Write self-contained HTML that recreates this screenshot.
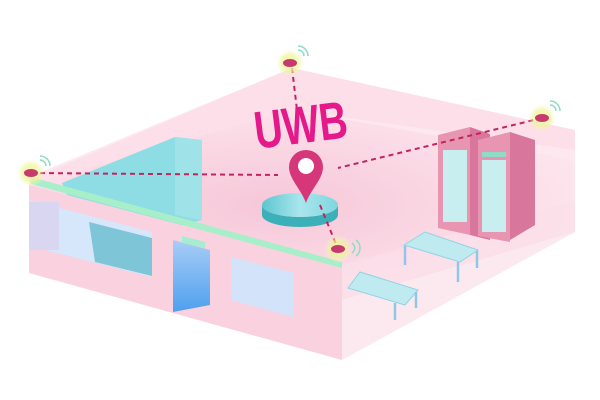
<!DOCTYPE html>
<html><head><meta charset="utf-8"><style>
html,body{margin:0;padding:0;background:#fff;}
svg{display:block}
</style></head><body>
<svg width="600" height="400" viewBox="0 0 600 400" xmlns="http://www.w3.org/2000/svg">
<defs>
<radialGradient id="glow"><stop offset="0" stop-color="#f3f7a0"/><stop offset="0.6" stop-color="#eef59a" stop-opacity="0.7"/><stop offset="1" stop-color="#f6f9c0" stop-opacity="0"/></radialGradient>
<radialGradient id="floorg" cx="0.45" cy="0.5" r="0.6"><stop offset="0" stop-color="#f6c7d8"/><stop offset="1" stop-color="#fde6ee"/></radialGradient>
<linearGradient id="disc" x1="0" x2="1"><stop offset="0" stop-color="#5cc6cf"/><stop offset="0.5" stop-color="#a9e6ec"/><stop offset="1" stop-color="#7fd6dd"/></linearGradient>
<linearGradient id="door" x1="0" y1="0" x2="0" y2="1"><stop offset="0" stop-color="#a8cdf6"/><stop offset="1" stop-color="#4fa0ee"/></linearGradient>
</defs>
<polygon points="292,68 575,130 575,232 342,267 29,180" fill="#fde8ef"/>
<polygon points="292,68 29,177 29,185 292,110 575,150 575,130" fill="#fbd9e5" opacity="0.6"/>
<polygon points="292,110 575,160 575,232 342,300 29,220 29,185" fill="url(#floorg)"/>
<polygon points="342,265 575,200 575,232 342,360" fill="#fbe0ea" opacity="0.7"/>
<polygon points="62,183 175,137 202,140 202,220 90,250" fill="#8fdde4"/>
<polygon points="175,137 202,140 202,220 175,215" fill="#9fe3e8"/>
<polygon points="438,135 470,127 470,235 438,228" fill="#e895b2"/>
<polygon points="470,127 490,134 490,240 470,235" fill="#d9769c"/>
<rect x="443" y="150" width="24" height="72" fill="#c9eef0"/>
<polygon points="478,140 510,132 510,242 478,236" fill="#e895b2"/>
<polygon points="510,132 535,140 535,225 510,240" fill="#d9769c"/>
<rect x="482" y="160" width="24" height="72" fill="#c9eef0"/>
<rect x="482" y="152" width="24" height="5" fill="#8fdbc8"/>
<polygon points="404,245 425,232 478,250 460,262" fill="#bfeaf0" stroke="#8fd3e6"/>
<g stroke="#8fc8e6" stroke-width="2.5"><line x1="405" y1="246" x2="405" y2="265"/><line x1="458" y1="262" x2="458" y2="282"/><line x1="477" y1="251" x2="477" y2="268"/></g>
<polygon points="348,288 360,272 418,290 405,305" fill="#bfeaf0" stroke="#8fd3e6"/>
<g stroke="#8fc8e6" stroke-width="2.5"><line x1="395" y1="303" x2="395" y2="320"/><line x1="416" y1="292" x2="416" y2="308"/></g>
<path d="M262,205 a38,12 0 0 0 76,0 v10 a38,12 0 0 1 -76,0 z" fill="#3bb0b8"/>
<ellipse cx="300" cy="205" rx="38" ry="12" fill="url(#disc)"/>
<polygon points="29,185 342,267 342,360 29,273" fill="#f9d1df"/>
<polygon points="29,200 152,232 152,277 29,246" fill="#d6e6fb"/>
<rect x="29" y="202" width="30" height="48" fill="#d9d6f2"/>
<polygon points="89,222 152,238 152,276 95,262" fill="#7fc5d8"/>
<polygon points="231,257 294,273 294,317 231,300" fill="#d3e3fa"/>
<polygon points="173,240 210,250 210,305 173,312" fill="url(#door)"/>
<polygon points="182,236 205,242 205,248 182,243" fill="#a6ecd0"/>
<polygon points="31,177 342,262 342,268 31,184" fill="#a6efc8"/>
<g stroke="#c2245f" stroke-width="2" stroke-dasharray="5,4" fill="none">
<line x1="31" y1="173" x2="278" y2="175"/>
<line x1="292" y1="68" x2="297" y2="110"/>
<line x1="542" y1="118" x2="338" y2="168"/>
<line x1="320" y1="205" x2="338" y2="249"/>
</g>
<g transform="translate(303,143) rotate(-7) scale(0.85,1.15)">
<text x="0" y="0" text-anchor="middle" font-family="Liberation Sans, sans-serif" font-weight="bold" font-size="46" fill="#e5198a">UWB</text>
</g>
<path d="M306,150 a17,17 0 0 1 17,17 c0,12 -12,22 -17,36 c-5,-14 -17,-24 -17,-36 a17,17 0 0 1 17,-17z" fill="#d6377a"/>
<circle cx="306" cy="166" r="8" fill="#fff"/>
<g>
<circle cx="290" cy="63" r="14" fill="url(#glow)"/><ellipse cx="290" cy="63" rx="7" ry="4" fill="#c83a6e"/>
<circle cx="31" cy="173" r="14" fill="url(#glow)"/><ellipse cx="31" cy="173" rx="7" ry="4" fill="#c83a6e"/>
<circle cx="542" cy="118" r="14" fill="url(#glow)"/><ellipse cx="542" cy="118" rx="7" ry="4" fill="#c83a6e"/>
<circle cx="338" cy="249" r="14" fill="url(#glow)"/><ellipse cx="338" cy="249" rx="7" ry="4" fill="#c83a6e"/>
</g>
<g stroke="#8fdcc0" stroke-width="1.5" fill="none">
<path d="M298,50 a6,6 0 0 1 6,6"/><path d="M298,46 a10,10 0 0 1 10,10"/>
<path d="M40,160 a6,6 0 0 1 6,6"/><path d="M40,156 a10,10 0 0 1 10,10"/>
<path d="M550,105 a6,6 0 0 1 6,6"/><path d="M550,101 a10,10 0 0 1 10,10"/>
<path d="M352,243 a6,6 0 0 1 0,10"/><path d="M356,240 a10,10 0 0 1 0,16"/>
</g>
</svg>
</body></html>
